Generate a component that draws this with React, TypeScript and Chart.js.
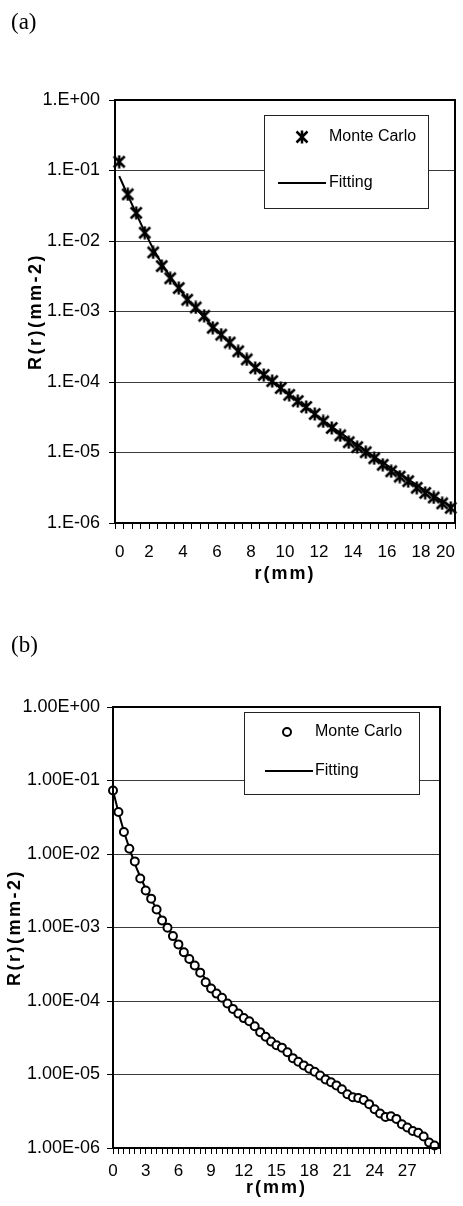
import React, { useEffect, useRef } from 'react';
import { Chart, registerables } from 'chart.js';

Chart.register(...registerables);

// ---------- Panel (a) ----------
const radiusA = [
  0.25, 0.75, 1.25, 1.75, 2.25, 2.75, 3.25, 3.75, 4.25, 4.75,
  5.25, 5.75, 6.25, 6.75, 7.25, 7.75, 8.25, 8.75, 9.25, 9.75,
  10.25, 10.75, 11.25, 11.75, 12.25, 12.75, 13.25, 13.75, 14.25, 14.75,
  15.25, 15.75, 16.25, 16.75, 17.25, 17.75, 18.25, 18.75, 19.25, 19.75,
];
const monteCarloA = [
  0.133, 0.0459, 0.0251, 0.0131, 0.00689, 0.00441, 0.00296, 0.00215, 0.00147, 0.00114,
  0.000869, 0.000587, 0.000469, 0.000363, 0.000273, 0.000209, 0.000158, 0.000126, 0.000103, 8.22e-5,
  6.58e-5, 5.36e-5, 4.42e-5, 3.51e-5, 2.76e-5, 2.23e-5, 1.75e-5, 1.40e-5, 1.19e-5, 1.01e-5,
  8.28e-6, 6.70e-6, 5.41e-6, 4.55e-6, 3.92e-6, 3.16e-6, 2.67e-6, 2.30e-6, 1.90e-6, 1.64e-6,
];
const fittingA = [
  0.0832, 0.0447, 0.0245, 0.0135, 0.00776, 0.00479, 0.00313, 0.00214, 0.00151, 0.00111,
  0.000822, 0.000617, 0.000468, 0.000355, 0.000272, 0.000209, 0.000162, 0.000127, 0.000101, 8.13e-5,
  6.53e-5, 5.31e-5, 4.32e-5, 3.51e-5, 2.85e-5, 2.32e-5, 1.91e-5, 1.57e-5, 1.29e-5, 1.06e-5,
  8.71e-6, 7.24e-6, 6.03e-6, 5.01e-6, 4.17e-6, 3.47e-6, 2.88e-6, 2.43e-6, 2.04e-6, 1.72e-6,
];
const yTickLabelsA = ['1.E-06', '1.E-05', '1.E-04', '1.E-03', '1.E-02', '1.E-01', '1.E+00'];
const xTickLabelsA = ['0', '2', '4', '6', '8', '10', '12', '14', '16', '18', '20'];

// ---------- Panel (b) ----------
const radiusB = [
  0, 0.5, 1, 1.5, 2, 2.5, 3, 3.5, 4, 4.5,
  5, 5.5, 6, 6.5, 7, 7.5, 8, 8.5, 9, 9.5,
  10, 10.5, 11, 11.5, 12, 12.5, 13, 13.5, 14, 14.5,
  15, 15.5, 16, 16.5, 17, 17.5, 18, 18.5, 19, 19.5,
  20, 20.5, 21, 21.5, 22, 22.5, 23, 23.5, 24, 24.5,
  25, 25.5, 26, 26.5, 27, 27.5, 28, 28.5, 29, 29.5,
];
const monteCarloB = [
  0.0731, 0.0373, 0.0199, 0.0118, 0.00793, 0.00464, 0.00319, 0.00247, 0.00176, 0.00125,
  0.000991, 0.000764, 0.000589, 0.000461, 0.000373, 0.000304, 0.000243, 0.000180, 0.000148, 0.000126,
  0.000111, 9.27e-5, 7.81e-5, 6.74e-5, 5.85e-5, 5.30e-5, 4.53e-5, 3.77e-5, 3.27e-5, 2.81e-5,
  2.50e-5, 2.32e-5, 2.01e-5, 1.67e-5, 1.49e-5, 1.33e-5, 1.20e-5, 1.09e-5, 9.66e-6, 8.55e-6,
  7.85e-6, 7.11e-6, 6.31e-6, 5.38e-6, 4.89e-6, 4.78e-6, 4.49e-6, 3.95e-6, 3.37e-6, 2.94e-6,
  2.65e-6, 2.70e-6, 2.49e-6, 2.10e-6, 1.90e-6, 1.70e-6, 1.61e-6, 1.43e-6, 1.19e-6, 1.08e-6,
];
const fittingB = [
  0.0731, 0.0372, 0.0204, 0.0120, 0.00741, 0.00490, 0.00339, 0.00243, 0.00178, 0.00132,
  0.00100, 0.000767, 0.000596, 0.000468, 0.000376, 0.000302, 0.000245, 0.000200, 0.000164, 0.000135,
  0.000112, 9.59e-5, 8.22e-5, 7.06e-5, 6.08e-5, 5.25e-5, 4.56e-5, 3.96e-5, 3.45e-5, 3.01e-5,
  2.63e-5, 2.31e-5, 2.03e-5, 1.78e-5, 1.57e-5, 1.38e-5, 1.23e-5, 1.09e-5, 9.75e-6, 8.69e-6,
  7.76e-6, 6.97e-6, 6.25e-6, 5.62e-6, 5.07e-6, 4.57e-6, 4.12e-6, 3.72e-6, 3.36e-6, 3.04e-6,
  2.75e-6, 2.50e-6, 2.27e-6, 2.06e-6, 1.87e-6, 1.70e-6, 1.55e-6, 1.41e-6, 1.29e-6, 1.17e-6,
];
const yTickLabelsB = ['1.00E-06', '1.00E-05', '1.00E-04', '1.00E-03', '1.00E-02', '1.00E-01', '1.00E+00'];
const xTickLabelsB = ['0', '3', '6', '9', '12', '15', '18', '21', '24', '27'];

// Shared axis definitions
const decades = [1e-6, 1e-5, 1e-4, 1e-3, 1e-2, 1e-1, 1];
const minorStep = 0.5;
const seriesLabels = ['Monte Carlo', 'Fitting'];
const yTitle = 'R(r)(mm-2)';
const xTitle = 'r(mm)';

const SANS = '"Liberation Sans", Arial, Helvetica, sans-serif';

// Excel-style "star" marker: an X crossed by a vertical bar
function makeStarMarker(): HTMLCanvasElement {
  const c = document.createElement('canvas');
  c.width = 14;
  c.height = 14;
  const g = c.getContext('2d')!;
  g.strokeStyle = '#000';
  g.lineWidth = 2.5;
  g.beginPath();
  g.moveTo(1.5, 1.5);
  g.lineTo(12.5, 12.5);
  g.moveTo(12.5, 1.5);
  g.lineTo(1.5, 12.5);
  g.moveTo(7, 0.5);
  g.lineTo(7, 13.5);
  g.stroke();
  return c;
}

type LegendBox = {
  x: number; y: number; w: number; h: number;
  markerX: number; row1: number; row2: number;
  lineX0: number; lineX1: number; textX: number;
};

type PanelSpec = {
  radius: number[];
  mc: number[];
  fit: number[];
  yLabels: string[];
  xLabels: string[];
  xMax: number;
  marker: 'star' | 'circle';
  padding: { left: number; right: number; top: number; bottom: number };
  yWidth: number;
  xHeight: number;
  xTickPad: number;
  yTickPad: number;
  xAlign: 'center' | 'inner';
  legendBox: LegendBox;
};

const panelA: PanelSpec = {
  radius: radiusA,
  mc: monteCarloA,
  fit: fittingA,
  yLabels: yTickLabelsA,
  xLabels: xTickLabelsA,
  xMax: 20,
  marker: 'star',
  padding: { left: 25, right: 6, top: 100, bottom: 18 },
  yWidth: 90,
  xHeight: 62,
  xTickPad: 13,
  yTickPad: 9,
  xAlign: 'inner',
  legendBox: { x: 264, y: 115, w: 164, h: 93, markerX: 302, row1: 137, row2: 183, lineX0: 278, lineX1: 326, textX: 329 },
};

const panelB: PanelSpec = {
  radius: radiusB,
  mc: monteCarloB,
  fit: fittingB,
  yLabels: yTickLabelsB,
  xLabels: xTickLabelsB,
  xMax: 30,
  marker: 'circle',
  padding: { left: 4, right: 23, top: 104, bottom: 7 },
  yWidth: 109,
  xHeight: 51,
  xTickPad: 7,
  yTickPad: 7,
  xAlign: 'center',
  legendBox: { x: 244, y: 109, w: 175, h: 82, markerX: 287, row1: 129, row2: 168, lineX0: 265, lineX1: 313, textX: 315 },
};

// Draws axis titles with the wide tracking used in the figure
function trackTitle(scale: any, spacing: string) {
  if (scale.$tracked) return;
  const draw = scale.drawTitle.bind(scale);
  scale.drawTitle = () => {
    const ctx = scale.ctx as CanvasRenderingContext2D;
    ctx.save();
    (ctx as any).letterSpacing = spacing;
    draw();
    ctx.restore();
  };
  scale.$tracked = true;
}

// Solid frame around the plotting area
const framePlugin = {
  id: 'frame',
  afterDraw(chart: any) {
    const { ctx, chartArea } = chart;
    ctx.save();
    ctx.strokeStyle = '#000';
    ctx.lineWidth = 2;
    ctx.strokeRect(chartArea.left, chartArea.top, chartArea.right - chartArea.left, chartArea.bottom - chartArea.top);
    ctx.restore();
  },
};

// Boxed legend inside the plotting area
const boxLegendPlugin = {
  id: 'boxLegend',
  afterDraw(chart: any, _args: any, opts: any) {
    const box: LegendBox = opts.box;
    const ctx: CanvasRenderingContext2D = chart.ctx;
    const [mcSet, fitSet] = chart.data.datasets;
    ctx.save();
    ctx.fillStyle = '#fff';
    ctx.fillRect(box.x, box.y, box.w, box.h);
    ctx.strokeStyle = '#222';
    ctx.lineWidth = 1;
    ctx.strokeRect(box.x + 0.5, box.y + 0.5, box.w, box.h);

    if (opts.marker === 'star') {
      const img = mcSet.pointStyle as HTMLCanvasElement;
      ctx.drawImage(img, box.markerX - img.width / 2, box.row1 - img.height / 2);
    } else {
      ctx.beginPath();
      ctx.arc(box.markerX, box.row1, mcSet.pointRadius, 0, Math.PI * 2);
      ctx.fillStyle = '#fff';
      ctx.fill();
      ctx.lineWidth = mcSet.borderWidth;
      ctx.strokeStyle = '#000';
      ctx.stroke();
    }

    ctx.beginPath();
    ctx.moveTo(box.lineX0, box.row2);
    ctx.lineTo(box.lineX1, box.row2);
    ctx.lineWidth = fitSet.borderWidth;
    ctx.strokeStyle = '#000';
    ctx.stroke();

    ctx.fillStyle = '#000';
    ctx.font = `16px ${SANS}`;
    ctx.textBaseline = 'middle';
    ctx.textAlign = 'left';
    ctx.fillText(mcSet.label, box.textX, box.row1);
    ctx.fillText(fitSet.label, box.textX, box.row2);
    ctx.restore();
  },
};

function buildConfig(spec: PanelSpec): any {
  const starMarker = spec.marker === 'star' ? makeStarMarker() : null;
  const xTickFont = { family: SANS, size: 17 };
  const yTickFont = { family: SANS, size: 18 };
  const titleFont = { family: SANS, size: 18, weight: 'bold' as const, lineHeight: 1.2 };

  return {
    type: 'line',
    data: {
      datasets: [
        {
          label: seriesLabels[0],
          data: spec.radius.map((r, i) => ({ x: r, y: spec.mc[i] })),
          showLine: false,
          pointStyle: starMarker ?? 'circle',
          pointRadius: starMarker ? 7 : 4,
          borderWidth: starMarker ? 1 : 2,
          borderColor: '#000',
          backgroundColor: '#fff',
          pointBackgroundColor: '#fff',
          order: 0,
          clip: false,
        },
        {
          label: seriesLabels[1],
          data: spec.radius.map((r, i) => ({ x: r, y: spec.fit[i] })),
          borderColor: '#000',
          borderWidth: 2,
          pointRadius: 0,
          fill: false,
          cubicInterpolationMode: 'monotone',
          order: 1,
          clip: false,
        },
      ],
    },
    options: {
      animation: false,
      responsive: false,
      devicePixelRatio: 1,
      events: [],
      layout: { padding: spec.padding },
      plugins: {
        legend: { display: false },
        tooltip: { enabled: false },
        boxLegend: { box: spec.legendBox, marker: spec.marker },
      },
      scales: {
        x: {
          type: 'linear',
          min: 0,
          max: spec.xMax,
          afterBuildTicks: (scale: any) => {
            const ticks = [];
            const n = Math.round(spec.xMax / minorStep);
            for (let i = 0; i <= n; i++) ticks.push({ value: i * minorStep });
            scale.ticks = ticks;
          },
          afterFit: (scale: any) => {
            scale.height = spec.xHeight;
            scale.paddingLeft = 0;
            scale.paddingRight = 0;
            trackTitle(scale, '2px');
          },
          grid: { drawOnChartArea: false, drawTicks: true, tickLength: 6, tickColor: '#000', color: '#000', lineWidth: 1 },
          border: { display: false },
          ticks: {
            autoSkip: false,
            maxRotation: 0,
            minRotation: 0,
            align: spec.xAlign,
            padding: spec.xTickPad,
            font: xTickFont,
            color: '#000',
            callback: (value: number) => {
              const s = String(Number(value));
              return spec.xLabels.includes(s) ? s : '';
            },
          },
          title: { display: true, text: xTitle, font: titleFont, color: '#000', padding: 0 },
        },
        y: {
          type: 'logarithmic',
          min: decades[0],
          max: decades[decades.length - 1],
          afterBuildTicks: (scale: any) => {
            scale.ticks = decades.map((v) => ({ value: v }));
          },
          afterFit: (scale: any) => {
            scale.width = spec.yWidth;
            scale.paddingTop = 0;
            scale.paddingBottom = 0;
            trackTitle(scale, '2.5px');
          },
          grid: { drawOnChartArea: true, drawTicks: true, tickLength: 6, tickColor: '#000', color: '#3a3a3a', lineWidth: 1 },
          border: { display: false },
          ticks: {
            autoSkip: false,
            padding: spec.yTickPad,
            font: yTickFont,
            color: '#000',
            callback: (value: number) => {
              const i = decades.indexOf(Number(value));
              return i >= 0 ? spec.yLabels[i] : '';
            },
          },
          title: { display: true, text: yTitle, font: titleFont, color: '#000', padding: 0 },
        },
      },
    },
    plugins: [framePlugin, boxLegendPlugin],
  };
}

function Panel({ spec, top }: { spec: PanelSpec; top: number }) {
  const ref = useRef<HTMLCanvasElement>(null);
  useEffect(() => {
    if (!ref.current) return;
    const chart = new Chart(ref.current, buildConfig(spec));
    return () => chart.destroy();
  }, [spec]);
  return (
    <canvas
      ref={ref}
      width={463}
      height={603}
      style={{ position: 'absolute', left: 0, top, width: 463, height: 603 }}
    />
  );
}

const captionStyle: React.CSSProperties = {
  position: 'absolute',
  left: 11,
  fontFamily: '"Liberation Serif", "Times New Roman", serif',
  fontSize: 23,
  lineHeight: '23px',
  color: '#000',
};

export default function App() {
  return (
    <div style={{ position: 'absolute', left: 0, top: 0, width: 463, height: 1206, background: '#fff', overflow: 'hidden' }}>
      <Panel spec={panelA} top={0} />
      <Panel spec={panelB} top={603} />
      <div style={{ ...captionStyle, top: 10 }}>(a)</div>
      <div style={{ ...captionStyle, top: 633 }}>(b)</div>
    </div>
  );
}
